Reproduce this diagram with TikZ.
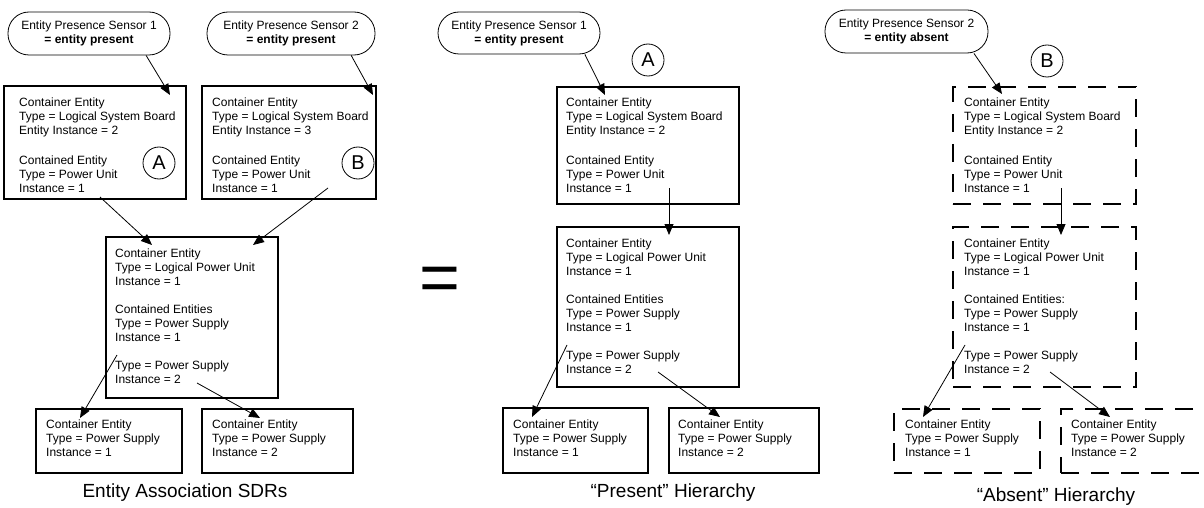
\documentclass[tikz,border=0pt]{standalone}
\usepackage{fontspec}
\setmainfont{Liberation Sans}
\usetikzlibrary{arrows.meta}
\begin{document}
\begin{tikzpicture}[x=1pt,y=-1pt,
  box/.style={draw, line width=1.6pt, anchor=north west, inner sep=0pt, outer sep=0pt},
  dbox/.style={box, dash pattern=on 18pt off 12pt},
  sensor/.style={draw, line width=0.8pt, rounded corners=21pt, minimum height=43pt, align=center, inner sep=0pt, font=\fontsize{12}{14}\selectfont},
  txt/.style={anchor=north west, inner sep=0pt, align=left, font=\fontsize{12}{14}\selectfont},
  tag/.style={draw, circle, line width=0.8pt, minimum size=32pt, inner sep=0pt, font=\fontsize{20}{24}\selectfont},
  conn/.style={line width=0.8pt, -{Triangle[length=11pt,width=9pt]}},
  captext/.style={anchor=base, inner sep=0pt, font=\fontsize{19}{22}\selectfont}
]
\useasboundingbox (0,0) rectangle (1204,508);

% ---------------- left panel ----------------
\node[sensor, minimum width=162pt] (s1L) at (89,33.5) {Entity Presence Sensor 1\\\textbf{= entity present}};
\node[sensor, minimum width=168pt] (s2L) at (291,33.5) {Entity Presence Sensor 2\\\textbf{= entity present}};

\node[box, minimum width=182pt, minimum height=113pt] (bA) at (4,86) {};
\node[box, minimum width=174pt, minimum height=113pt] (bB) at (202,86) {};
\node[txt] (tA) at (19,97.3) {Container Entity\\Type = Logical System Board\\Entity Instance = 2\\[16pt]Contained Entity\\Type = Power Unit\\Instance = 1};
\node[txt] (tB) at (212,97.3) {Container Entity\\Type = Logical System Board\\Entity Instance = 3\\[16pt]Contained Entity\\Type = Power Unit\\Instance = 1};
\node[tag] (cA) at (159,163) {A};
\node[tag] (cB) at (358,163) {B};

\node[box, minimum width=172pt, minimum height=161pt] (bM) at (106,237) {};
\node[txt] (tM) at (115,248.3) {Container Entity\\Type = Logical Power Unit\\Instance = 1\\[14pt]Contained Entities\\Type = Power Supply\\Instance = 1\\[14pt]Type = Power Supply\\Instance = 2};

\node[box, minimum width=146pt, minimum height=64pt] (bL1) at (36,409) {};
\node[box, minimum width=151pt, minimum height=64pt] (bL2) at (202,409) {};
\node[txt] (tL1) at (46,419.3) {Container Entity\\Type = Power Supply\\Instance = 1};
\node[txt] (tL2) at (212,419.3) {Container Entity\\Type = Power Supply\\Instance = 2};

\node[captext] (capL) at (185,497) {Entity Association SDRs};

\coordinate (eA) at (170,95);
\coordinate (eB) at (373,95);
\coordinate (oA) at (100,197);
\coordinate (iM1) at (152,245);
\coordinate (oB) at (328,188);
\coordinate (iM2) at (253,245);
\coordinate (oM1) at (117,355);
\coordinate (iL1) at (80,418);
\coordinate (oM2) at (197,383);
\coordinate (iL2) at (260,418);
\draw[conn] (s1L.-21) -- (eA);
\draw[conn] (s2L.-20) -- (eB);
\draw[conn] (oA) -- (iM1);
\draw[conn] (oB) -- (iM2);
\draw[conn] (oM1) -- (iL1);
\draw[conn] (oM2) -- (iL2);

% ---------------- equals ----------------
\node[anchor=base, inner sep=0pt, font=\fontsize{70}{70}\selectfont] (eq) at (440,301.8) {=};

% ---------------- middle panel ----------------
\node[sensor, minimum width=162pt, minimum height=42pt] (s1M) at (519,33) {Entity Presence Sensor 1\\\textbf{= entity present}};
\node[tag] (cA2) at (648,60) {A};
\node[box, minimum width=182pt, minimum height=117pt] (bA2) at (557,87) {};
\node[txt] (tA2) at (566,97.3) {Container Entity\\Type = Logical System Board\\Entity Instance = 2\\[16pt]Contained Entity\\Type = Power Unit\\Instance = 1};
\node[box, minimum width=182pt, minimum height=160pt] (bM2) at (557,227) {};
\node[txt] (tM2) at (566,238.3) {Container Entity\\Type = Logical Power Unit\\Instance = 1\\[14pt]Contained Entities\\Type = Power Supply\\Instance = 1\\[14pt]Type = Power Supply\\Instance = 2};
\node[box, minimum width=145pt, minimum height=65pt] (bP1) at (503,408) {};
\node[box, minimum width=150pt, minimum height=65pt] (bP2) at (669,408) {};
\node[txt] (tP1) at (513,419.3) {Container Entity\\Type = Power Supply\\Instance = 1};
\node[txt] (tP2) at (678,419.3) {Container Entity\\Type = Power Supply\\Instance = 2};
\node[captext] (capM) at (673,497) {“Present” Hierarchy};

\coordinate (eA2) at (605,95);
\coordinate (oA2) at (669,188);
\coordinate (iM3) at (669,235);
\coordinate (oM3) at (567,345);
\coordinate (iP1) at (532,417);
\coordinate (oM4) at (658,372);
\coordinate (iP2) at (720,417);
\draw[conn] (s1M.-18) -- (eA2);
\draw[conn] (oA2) -- (iM3);
\draw[conn] (oM3) -- (iP1);
\draw[conn] (oM4) -- (iP2);

% ---------------- right panel ----------------
\node[sensor, minimum width=163pt] (s2R) at (906.5,31.5) {Entity Presence Sensor 2\\\textbf{= entity absent}};
\node[tag] (cB2) at (1047,61) {B};
\node[dbox, minimum width=183pt, minimum height=117pt] (bB2) at (953,87) {};
\node[txt] (tB2) at (964,97.3) {Container Entity\\Type = Logical System Board\\Entity Instance = 2\\[16pt]Contained Entity\\Type = Power Unit\\Instance = 1};
\node[dbox, minimum width=183pt, minimum height=160pt] (bM3) at (953,227) {};
\node[txt] (tM3) at (964,238.3) {Container Entity\\Type = Logical Power Unit\\Instance = 1\\[14pt]Contained Entities:\\Type = Power Supply\\Instance = 1\\[14pt]Type = Power Supply\\Instance = 2};
\node[dbox, minimum width=146pt, minimum height=64pt] (bR1) at (894,409) {};
\node[dbox, minimum width=154pt, minimum height=64pt] (bR2) at (1061,409) {};
\node[txt] (tR1) at (905,419.3) {Container Entity\\Type = Power Supply\\Instance = 1};
\node[txt] (tR2) at (1071,419.3) {Container Entity\\Type = Power Supply\\Instance = 2};
\node[captext] (capR) at (1056,501) {“Absent” Hierarchy};

\coordinate (eB2) at (1002,94);
\coordinate (oB2) at (1061,188);
\coordinate (iM4) at (1061,235);
\coordinate (oM5) at (965,345);
\coordinate (iR1) at (923,417);
\coordinate (oM6) at (1050,372);
\coordinate (iR2) at (1110,417);
\draw[conn] (s2R.-18) -- (eB2);
\draw[conn] (oB2) -- (iM4);
\draw[conn] (oM5) -- (iR1);
\draw[conn] (oM6) -- (iR2);
\end{tikzpicture}
\end{document}
